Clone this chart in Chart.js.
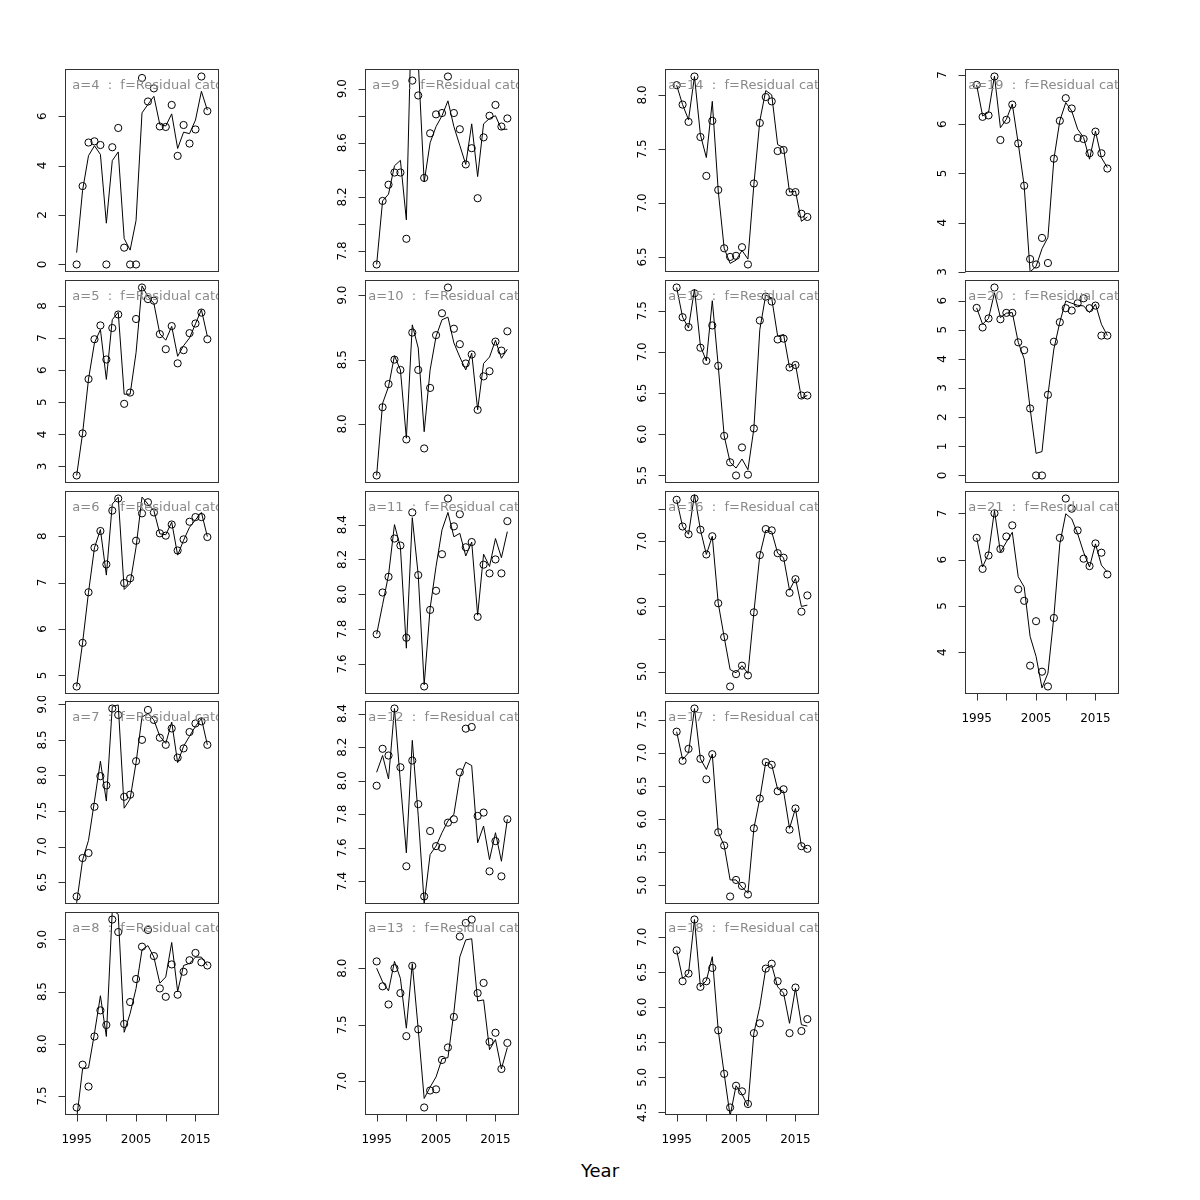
<!DOCTYPE html>
<html><head><meta charset="utf-8">
<script src="https://cdn.jsdelivr.net/npm/chart.js@4.4.1/dist/chart.umd.min.js"></script>
<style>
html,body{margin:0;padding:0;background:#fff;}
#wrap{position:relative;width:1200px;height:1200px;background:#fff;overflow:hidden;}
#wrap canvas{position:absolute;}
#xtitle{position:absolute;left:0;width:1200px;top:1160px;text-align:center;font:18px "DejaVu Sans";color:#000;}
</style></head><body>
<div id="wrap"><div id="xtitle">Year</div></div>
<script>
// ---------- data ----------
const years = [1995,1996,1997,1998,1999,2000,2001,2002,2003,2004,2005,2006,2007,2008,2009,2010,2011,2012,2013,2014,2015,2016,2017];
const xTicks = [1995,2000,2005,2010,2015];
const xTickLabels = ["1995","","2005","","2015"];
const xTitle = "Year";
const labelSuffix = "  :  f=Residual catch";

const obs_a4 = [0,3.17,4.93,4.98,4.83,0,4.74,5.52,0.68,0,0,7.54,6.59,7.12,5.58,5.56,6.45,4.39,5.64,4.89,5.46,7.60,6.20];
const fit_a4 = [0.48,3.0,4.4,4.8,4.45,1.67,4.2,4.55,1.05,0.58,1.78,6.13,6.47,6.8,5.66,5.6,6.09,4.69,5.35,5.29,5.84,7.0,6.24];
const obs_a5 = [2.72,4.03,5.72,6.96,7.39,6.33,7.31,7.73,4.95,5.30,7.59,8.57,8.21,8.16,7.12,6.65,7.37,6.21,6.62,7.15,7.45,7.79,6.96];
const fit_a5 = [2.72,4.03,5.72,6.85,7.26,5.71,7.57,7.8,5.25,5.25,6.54,8.62,8.29,8.08,7.13,6.93,7.36,6.43,6.76,7.0,7.44,7.88,7.05];
const obs_a6 = [4.76,5.70,6.79,7.75,8.11,7.39,8.55,8.81,6.99,7.09,7.90,8.49,8.73,8.51,8.06,8.01,8.25,7.69,7.93,8.31,8.41,8.41,7.98];
const fit_a6 = [4.76,5.70,6.79,7.75,8.14,7.16,8.69,8.84,6.85,6.98,7.76,8.84,8.69,8.55,8.05,8.03,8.3,7.59,7.91,8.19,8.35,8.51,7.99];
const obs_a7 = [6.30,6.84,6.91,7.56,7.99,7.86,8.94,8.85,7.70,7.73,8.20,8.50,8.92,8.78,8.53,8.43,8.66,8.25,8.38,8.61,8.73,8.76,8.43];
const fit_a7 = [6.21,6.81,7.09,7.64,8.2,7.64,8.97,8.99,7.54,7.67,8.18,8.82,8.87,8.78,8.55,8.45,8.75,8.18,8.41,8.55,8.69,8.8,8.43];
const obs_a8 = [7.39,7.80,7.59,8.07,8.32,8.18,9.19,9.07,8.19,8.40,8.62,8.93,9.09,8.84,8.53,8.45,8.76,8.47,8.69,8.80,8.87,8.78,8.75];
const fit_a8 = [7.28,7.76,7.77,8.1,8.46,8.07,9.28,9.24,8.11,8.29,8.53,8.9,8.94,8.83,8.58,8.64,8.97,8.5,8.75,8.77,8.83,8.83,8.75];
const obs_a9 = [7.70,8.17,8.29,8.38,8.38,7.89,9.06,8.95,8.34,8.67,8.81,8.82,9.09,8.82,8.70,8.44,8.56,8.19,8.64,8.80,8.88,8.72,8.78];
const fit_a9 = [7.70,8.17,8.22,8.43,8.47,8.03,9.8,9.2,8.31,8.6,8.72,8.8,8.91,8.72,8.58,8.44,8.74,8.35,8.74,8.78,8.8,8.7,8.7];
const obs_a10 = [7.60,8.13,8.31,8.50,8.42,7.88,8.71,8.42,7.81,8.28,8.69,8.86,9.06,8.74,8.62,8.47,8.54,8.11,8.37,8.41,8.64,8.57,8.72];
const fit_a10 = [7.60,8.16,8.29,8.53,8.42,7.89,8.77,8.59,7.94,8.42,8.68,8.81,8.83,8.63,8.52,8.42,8.55,8.11,8.47,8.52,8.65,8.51,8.58];
const obs_a11 = [7.77,8.01,8.10,8.32,8.28,7.75,8.47,8.11,7.47,7.91,8.02,8.23,8.55,8.39,8.46,8.27,8.30,7.87,8.17,8.12,8.20,8.12,8.42];
const fit_a11 = [7.77,7.94,8.11,8.40,8.27,7.69,8.44,8.11,7.48,7.92,8.16,8.37,8.47,8.33,8.35,8.22,8.30,7.88,8.23,8.16,8.32,8.21,8.36];
const obs_a12 = [7.97,8.19,8.15,8.43,8.08,7.49,8.12,7.86,7.31,7.70,7.61,7.60,7.75,7.77,8.05,8.31,8.32,7.79,7.81,7.46,7.64,7.43,7.77];
const fit_a12 = [8.05,8.15,8.01,8.43,7.99,7.57,8.24,7.79,7.27,7.56,7.61,7.69,7.76,7.8,8.02,8.11,8.09,7.63,7.73,7.53,7.69,7.52,7.77];
const obs_a13 = [8.06,7.84,7.68,8.00,7.78,7.40,8.02,7.46,6.77,6.92,6.93,7.19,7.30,7.57,8.28,8.40,8.43,7.78,7.87,7.35,7.43,7.11,7.34];
const fit_a13 = [8.0,7.88,7.80,8.06,7.91,7.47,8.04,7.46,6.85,6.95,7.04,7.2,7.21,7.61,8.10,8.25,8.26,7.71,7.72,7.28,7.37,7.11,7.30];
const obs_a14 = [8.09,7.91,7.75,8.17,7.61,7.25,7.76,7.12,6.58,6.50,6.51,6.59,6.43,7.18,7.74,7.98,7.94,7.48,7.49,7.10,7.10,6.90,6.87];
const fit_a14 = [8.09,7.91,7.77,8.17,7.63,7.42,7.94,7.11,6.58,6.44,6.47,6.56,6.48,7.17,7.76,8.04,8.0,7.54,7.51,7.10,7.11,6.83,6.87];
const obs_a15 = [7.78,7.42,7.30,7.71,7.05,6.89,7.32,6.83,5.98,5.66,5.50,5.84,5.51,6.07,7.38,7.67,7.61,7.15,7.16,6.81,6.84,6.47,6.47];
const fit_a15 = [7.78,7.42,7.29,7.76,7.07,6.89,7.62,6.83,5.98,5.66,5.59,5.70,5.57,6.07,7.27,7.69,7.65,7.19,7.21,6.81,6.85,6.44,6.47];
const obs_a16 = [7.64,7.23,7.11,7.66,7.18,6.80,7.08,6.05,5.53,4.77,4.96,5.09,4.94,5.91,6.79,7.19,7.17,6.82,6.75,6.21,6.42,5.92,6.17];
const fit_a16 = [7.64,7.23,7.11,7.72,7.18,6.80,7.08,6.05,5.53,5.03,4.98,5.09,4.97,5.91,6.79,7.17,7.15,6.82,6.75,6.25,6.43,6.0,6.02];
const obs_a17 = [7.32,6.88,7.06,7.67,6.91,6.60,6.98,5.80,5.60,4.83,5.08,4.99,4.86,5.86,6.31,6.86,6.82,6.42,6.45,5.84,6.16,5.59,5.55];
const fit_a17 = [7.32,6.90,7.0,7.67,6.91,6.75,6.98,5.80,5.60,5.08,5.08,4.97,4.88,5.86,6.31,6.86,6.82,6.45,6.42,5.86,6.16,5.59,5.55];
const obs_a18 = [6.81,6.37,6.48,7.25,6.29,6.37,6.56,5.67,5.05,4.57,4.88,4.80,4.62,5.63,5.77,6.55,6.62,6.37,6.21,5.63,6.28,5.66,5.83];
const fit_a18 = [6.81,6.41,6.48,7.25,6.29,6.38,6.72,5.67,5.05,4.45,4.88,4.76,4.59,5.63,6.01,6.55,6.6,6.29,6.2,5.77,6.27,5.75,5.73];
const obs_a19 = [6.80,6.15,6.18,6.97,5.68,6.09,6.40,5.61,4.75,3.26,3.15,3.69,3.18,5.30,6.07,6.53,6.32,5.72,5.70,5.41,5.85,5.41,5.10];
const fit_a19 = [6.80,6.17,6.24,6.98,5.93,6.10,6.41,5.61,4.75,3.0,3.11,3.47,3.70,5.29,6.07,6.44,6.27,5.9,5.73,5.29,5.86,5.32,5.12];
const obs_a20 = [5.75,5.08,5.39,6.45,5.36,5.58,5.58,4.57,4.30,2.30,0,0,2.77,4.59,5.26,5.74,5.66,5.91,6.08,5.74,5.83,4.80,4.80];
const fit_a20 = [5.75,5.19,5.39,6.27,5.42,5.57,5.59,4.57,4.0,2.30,0.76,0.82,2.77,4.34,5.26,5.99,5.91,5.84,5.82,5.59,5.88,5.19,4.80];
const obs_a21 = [6.47,5.80,6.09,7.00,6.23,6.50,6.74,5.36,5.11,3.71,4.67,3.58,3.26,4.74,6.47,7.32,7.10,6.63,6.02,5.86,6.35,6.15,5.68];
const fit_a21 = [6.47,5.84,6.13,7.06,6.16,6.38,6.59,5.63,5.41,4.34,3.91,3.23,3.55,4.77,6.34,6.99,6.88,6.56,6.16,5.84,6.34,5.88,5.73];

const yt_a4 = [0,2,4,6];                 const yl_a4 = ["0","2","4","6"];
const yt_a5 = [3,4,5,6,7,8];             const yl_a5 = ["3","4","5","6","7","8"];
const yt_a6 = [5,6,7,8];                 const yl_a6 = ["5","6","7","8"];
const yt_a7 = [6.5,7,7.5,8,8.5,9];       const yl_a7 = ["6.5","7.0","7.5","8.0","8.5","9.0"];
const yt_a8 = [7.5,8,8.5,9];             const yl_a8 = ["7.5","8.0","8.5","9.0"];
const yt_a9 = [7.8,8.0,8.2,8.4,8.6,8.8,9.0]; const yl_a9 = ["7.8","","8.2","","8.6","","9.0"];
const yt_a10 = [8.0,8.5,9.0];            const yl_a10 = ["8.0","8.5","9.0"];
const yt_a11 = [7.6,7.8,8.0,8.2,8.4];    const yl_a11 = ["7.6","7.8","8.0","8.2","8.4"];
const yt_a12 = [7.4,7.6,7.8,8.0,8.2,8.4]; const yl_a12 = ["7.4","7.6","7.8","8.0","8.2","8.4"];
const yt_a13 = [7.0,7.5,8.0];            const yl_a13 = ["7.0","7.5","8.0"];
const yt_a14 = [6.5,7.0,7.5,8.0];        const yl_a14 = ["6.5","7.0","7.5","8.0"];
const yt_a15 = [5.5,6.0,6.5,7.0,7.5];    const yl_a15 = ["5.5","6.0","6.5","7.0","7.5"];
const yt_a16 = [5.0,5.5,6.0,6.5,7.0,7.5]; const yl_a16 = ["5.0","","6.0","","7.0",""];
const yt_a17 = [5.0,5.5,6.0,6.5,7.0,7.5]; const yl_a17 = ["5.0","5.5","6.0","6.5","7.0","7.5"];
const yt_a18 = [4.5,5.0,5.5,6.0,6.5,7.0]; const yl_a18 = ["4.5","5.0","5.5","6.0","6.5","7.0"];
const yt_a19 = [3,4,5,6,7];              const yl_a19 = ["3","4","5","6","7"];
const yt_a20 = [0,1,2,3,4,5,6];          const yl_a20 = ["0","1","2","3","4","5","6"];
const yt_a21 = [4,5,6,7];                const yl_a21 = ["4","5","6","7"];

// panel table: [age, observed, fitted, yticks, ylabels, column, row, showXAxis]
const panels = [
  [4,obs_a4,fit_a4,yt_a4,yl_a4,0,0,false],
  [5,obs_a5,fit_a5,yt_a5,yl_a5,0,1,false],
  [6,obs_a6,fit_a6,yt_a6,yl_a6,0,2,false],
  [7,obs_a7,fit_a7,yt_a7,yl_a7,0,3,false],
  [8,obs_a8,fit_a8,yt_a8,yl_a8,0,4,true],
  [9,obs_a9,fit_a9,yt_a9,yl_a9,1,0,false],
  [10,obs_a10,fit_a10,yt_a10,yl_a10,1,1,false],
  [11,obs_a11,fit_a11,yt_a11,yl_a11,1,2,false],
  [12,obs_a12,fit_a12,yt_a12,yl_a12,1,3,false],
  [13,obs_a13,fit_a13,yt_a13,yl_a13,1,4,true],
  [14,obs_a14,fit_a14,yt_a14,yl_a14,2,0,false],
  [15,obs_a15,fit_a15,yt_a15,yl_a15,2,1,false],
  [16,obs_a16,fit_a16,yt_a16,yl_a16,2,2,false],
  [17,obs_a17,fit_a17,yt_a17,yl_a17,2,3,false],
  [18,obs_a18,fit_a18,yt_a18,yl_a18,2,4,true],
  [19,obs_a19,fit_a19,yt_a19,yl_a19,3,0,false],
  [20,obs_a20,fit_a20,yt_a20,yl_a20,3,1,false],
  [21,obs_a21,fit_a21,yt_a21,yl_a21,3,2,true]
];

// ---------- layout ----------
const colLeft = [65,365,665,965];
const rowTop = [68,279,490,700,911];
const boxW = 155, boxH = 204;
const padL = 50, padT = 4, padR = 4, padB = 50;
const FONT = '"DejaVu Sans", sans-serif';

const rAxes = {
  id: 'rAxes',
  afterDatasetsDraw(chart, args, o) {
    const ctx = chart.ctx, ca = chart.chartArea;
    const xs = chart.scales.x, ys = chart.scales.y;
    // panel label (clipped to plot region)
    ctx.save();
    ctx.beginPath(); ctx.rect(ca.left, ca.top, ca.right - ca.left, ca.bottom - ca.top); ctx.clip();
    ctx.font = '13px ' + FONT;
    ctx.fillStyle = '#8a8a8a';
    ctx.textAlign = 'center'; ctx.textBaseline = 'alphabetic';
    const refW = ctx.measureText('a=4' + labelSuffix).width;
    ctx.fillText(o.label, ca.left + 7.3 + refW / 2, ca.top + 19.8);
    ctx.restore();

    ctx.save();
    ctx.strokeStyle = '#333'; ctx.lineWidth = 1;
    ctx.strokeRect(ca.left + 0.5, ca.top + 0.5, ca.right - ca.left - 1, ca.bottom - ca.top - 1);
    // y axis
    ctx.beginPath();
    o.yticks.forEach(v => {
      const py = Math.round(ys.getPixelForValue(v)) + 0.5;
      ctx.moveTo(ca.left + 0.5, py); ctx.lineTo(ca.left - 6.5, py);
    });
    ctx.stroke();
    ctx.fillStyle = '#000';
    ctx.font = '12px ' + FONT;
    o.yticks.forEach((v, i) => {
      if (!o.ylabels[i]) return;
      const py = ys.getPixelForValue(v);
      ctx.save();
      ctx.translate(ca.left - 18.6, py);
      ctx.rotate(-Math.PI / 2);
      ctx.textAlign = 'center'; ctx.textBaseline = 'alphabetic';
      ctx.fillText(o.ylabels[i], 0, 0);
      ctx.restore();
    });
    // x axis
    if (o.showX) {
      ctx.beginPath();
      xTicks.forEach(v => {
        const px = Math.round(xs.getPixelForValue(v)) + 0.5;
        ctx.moveTo(px, ca.bottom - 0.5); ctx.lineTo(px, ca.bottom + 6.5);
      });
      ctx.stroke();
      ctx.textAlign = 'center'; ctx.textBaseline = 'alphabetic';
      xTicks.forEach((v, i) => {
        if (!xTickLabels[i]) return;
        ctx.fillText(xTickLabels[i], xs.getPixelForValue(v), ca.bottom + 27.5);
      });
    }
    ctx.restore();
  }
};

const wrap = document.getElementById('wrap');
document.getElementById('xtitle').textContent = xTitle;

panels.forEach(p => {
  const [age, obs, fit, yt, yl, col, row, showX] = p;
  const lo = Math.min(...obs), hi = Math.max(...obs), r = hi - lo;
  const cv = document.createElement('canvas');
  const W = boxW + padL + padR, H = boxH + padT + padB;
  cv.width = W; cv.height = H;
  cv.style.width = W + 'px'; cv.style.height = H + 'px';
  cv.style.left = (colLeft[col] - padL) + 'px';
  cv.style.top = (rowTop[row] - padT) + 'px';
  wrap.appendChild(cv);
  new Chart(cv, {
    type: 'scatter',
    data: {
      datasets: [
        { data: years.map((y, i) => ({x: y, y: fit[i]})), showLine: true, pointRadius: 0,
          borderColor: '#000', borderWidth: 1, clip: 0, order: 2 },
        { data: years.map((y, i) => ({x: y, y: obs[i]})), showLine: false, pointRadius: 3.6,
          pointStyle: 'circle', borderColor: '#000', borderWidth: 1, backgroundColor: 'rgba(0,0,0,0)',
          clip: 0, order: 1 }
      ]
    },
    options: {
      responsive: false, animation: false, devicePixelRatio: 1,
      layout: { padding: { left: padL, top: padT, right: padR, bottom: padB } },
      plugins: { legend: { display: false }, tooltip: { enabled: false },
        rAxes: { label: 'a=' + age + labelSuffix, yticks: yt, ylabels: yl, showX: showX } },
      scales: {
        x: { type: 'linear', display: false, min: 1993.04, max: 2018.96 },
        y: { type: 'linear', display: false, min: lo - 0.04 * r, max: hi + 0.04 * r }
      },
      events: []
    },
    plugins: [rAxes]
  });
});
</script>
</body></html>
